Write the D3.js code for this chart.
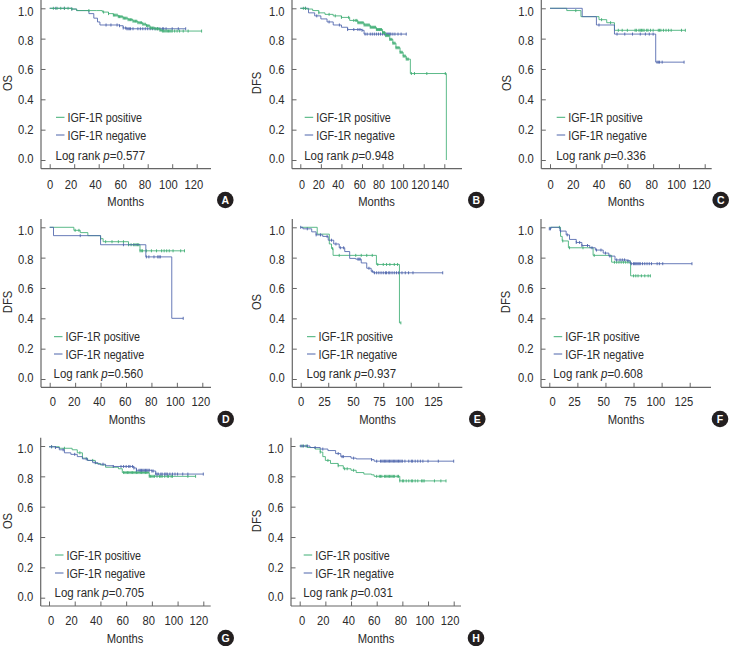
<!DOCTYPE html>
<html><head><meta charset="utf-8">
<script src="https://cdn.jsdelivr.net/npm/d3@7/dist/d3.min.js"></script>
<style>
html,body{margin:0;padding:0;background:#fff}
svg{display:block}
text{font-family:"Liberation Sans",Arial,sans-serif;fill:#2b2b2b;font-size:13.5px}
</style></head><body>
<svg id="c" width="729" height="646"></svg>
<script>
// ---------- values ----------
const yTicks=[0,0.2,0.4,0.6,0.8,1.0];
const ticks20x6=[0,20,40,60,80,100,120];
const ticks20x7=[0,20,40,60,80,100,120,140];
const ticks25=[0,25,50,75,100,125];

const A_posSteps=[[0,1],[18,.995],[22,.985],[38,.985],[43,.975],[48,.965],[52,.955],[56,.945],[60,.935],[64,.925],[68,.915],[72,.905],[76,.895],[79,.885],[82,.87],[86,.865],[90,.855],[92,.85]];
const A_negSteps=[[0,1],[18,.995],[22,.985],[32,.965],[36,.935],[39,.91],[41,.89],[57,.885],[60,.87],[63,.865]];
const A_posCens=[3,6,9,12,15,18,32,44,48,52,53,54,55,56,57,58,59,60,61,62,63,64,65,66,67,68,69,70,71,72,73,74,75,76,77,78,79,80,81,82,83,84,85,86,87,88,89,90,91,92,93,94,95,96,97,98,99,100,102,104,106,109,113,124];
const A_negCens=[5,12,18,46,50,55,57,60,62,63,64,65,66,68,72,74,76,78,80,82,84,86,88,90,92,93,95,100,105,111];

const B_posSteps=[[0,1],[6,.995],[12,.985],[18,.97],[24,.96],[32,.95],[40,.94],[48,.92],[56,.905],[62,.89],[68,.875],[74,.86],[80,.84],[83,.82],[87,.795],[90,.77],[93,.74],[97,.71],[100,.685],[103,.665],[107,.57],[142,0]];
const B_negSteps=[[0,1],[8,.97],[14,.95],[20,.93],[26,.91],[32,.89],[40,.875],[46,.86],[60,.855],[62,.83]];
const B_posCens=[3,5,18,28,34,40,47,52,54,55,56,57,58,59,60,61,62,63,64,65,66,67,68,69,70,71,72,73,74,75,76,77,78,79,80,81,82,83,84,85,86,87,88,89,90,91,92,93,94,95,96,97,98,99,100,101,102,103,104,105,108,111,123,141];
const B_negCens=[5,16,28,38,46,52,56,58,60,63,65,68,70,72,74,76,78,80,82,84,85,86,87,88,90,92,95,98,103];

const C_posSteps=[[0,1],[13,.985],[24,.945],[38,.925],[44,.905],[50,.855]];
const C_negSteps=[[0,1],[25,.945],[36,.89],[50,.83],[82,.645]];
const C_posCens=[20,40,47,53,56,60,66,67,69,70,71,72,73,75,76,78,80,84,85,86,88,90,92,94,102,105];
const C_negCens=[38,52,58,64,70,74,77,80,83,84,85,87,104];

const D_posSteps=[[0,1],[19,.98],[24,.965],[30,.945],[40,.925],[42,.905],[62,.885],[71,.845]];
const D_negSteps=[[0,1],[3,.945],[40,.885],[75.6,.805],[96,.4]];
const D_posCens=[20,23,40,44,49,54,58,62,64,66,67,68,69,70,71,72,73,76,80,84,88,90,92,94,97,103,106];
const D_negCens=[24,58,76,78,82,85,86,87,105];

const E_posSteps=[[0,1],[15,.955],[26,.89],[28,.86],[29.4,.815],[68.8,.755],[89.7,.37]];
const E_negSteps=[[0,1],[2,.99],[10,.97],[14,.95],[20,.94],[25,.915],[30,.89],[35,.865],[40,.84],[44.5,.795],[50,.79],[55,.765],[60,.73],[64,.71],[66,.70]];
const E_posCens=[29,35,50,55,60,65,70,75,78,81,85,88,91];
const E_negCens=[0,6,14,18,24,28,32,36,39,52,53,54,62,65,67,69,71,73,75,77,78,80,81,83,85,87,89,92,95,98,102,129];

const F_posSteps=[[0,1],[10,.94],[11.5,.91],[17,.865],[39,.815],[55.5,.77],[72.4,.68]];
const F_negSteps=[[0,.99],[1.5,1],[9.5,.975],[15,.95],[18,.92],[24,.90],[29,.88],[36,.865],[41,.85],[48,.83],[53,.81],[58.5,.785],[69,.78],[72,.76]];
const F_posCens=[9,12,18,30,40,58,60,62,64,66,68,70,72,75,77,79,82,85,88,90];
const F_negCens=[0,1,10,16,24,27,29,34,38,42,46,50,54,60,63,65,67,70,73,75,76,77,78,79,80,81,83,85,87,89,91,96,98,101,127];

const G_posSteps=[[0,.995],[8,.985],[18,.975],[22,.955],[26,.92],[30,.905],[36,.885],[40,.875],[44,.86],[54,.85],[57,.825],[78,.80]];
const G_negSteps=[[0,.995],[5,.99],[8,.975],[12,.955],[17,.945],[22,.93],[26,.915],[30,.905],[34,.89],[38,.88],[44,.87],[50,.865],[66,.855],[68,.84],[80,.835],[83,.815]];
const G_posCens=[2,12,24,34,58,59,60,61,62,63,64,65,66,67,68,69,70,71,72,73,74,75,76,77,78,79,80,81,82,84,86,87,88,90,92,93,95,96,108,114];
const G_negCens=[2,5,11,20,29,36,42,50,56,58,60,62,63,65,66,68,70,71,72,73,74,75,76,77,78,80,81,83,84,85,87,88,90,91,92,94,96,98,100,104,108,120];

const H_posSteps=[[0,1],[6,.99],[12,.98],[16,.96],[18,.93],[20,.905],[24,.885],[30,.87],[34,.85],[40,.84],[44,.825],[50,.815],[56,.81],[58,.80],[78,.77]];
const H_negSteps=[[0,1],[8,.99],[16,.98],[22,.97],[28,.95],[32,.93],[40,.92],[44,.915],[56,.91],[58,.90]];
const H_posCens=[2,5,16,22,30,35,37,42,60,62,63,64,66,67,68,69,70,71,72,73,74,76,77,78,80,81,83,85,87,88,90,92,95,96,97,105,110,114];
const H_negCens=[1,3,6,12,18,30,33,34,42,56,60,63,64,65,66,67,68,69,70,71,72,73,74,75,76,77,78,79,80,82,85,87,88,90,92,94,96,100,108,120];

const panelLetters=["A","B","C","D","E","F","G","H"];
const endpoints=["OS","DFS","OS","DFS","OS","DFS","OS","DFS"];
const pValues=["0.577","0.948","0.336","0.560","0.937","0.608","0.705","0.031"];
const legendNames=["IGF-1R positive","IGF-1R negative"];
const xAxisLabel="Months";
const posColor="#3fae74", negColor="#4d64ab";

// ---------- layout ----------
const narrow=0.83, narrowLegend=0.795, narrowLog=0.85;
const rowA={top:0,bottom:168.7,y1:8.3,y0:160,xLab:184,mon:201.7,leg:[117.3,135],log:155,badge:200,ySide:83};
const rowB={top:219,bottom:387.3,y1:227.3,y0:379,xLab:401,mon:419.5,leg:[336.7,354],log:373.7,badge:419,ySide:302};
const rowC={top:437.7,bottom:606,y1:446,y0:597.7,xLab:620,mon:638.5,leg:[555,573],log:592.3,badge:638,ySide:521};
const panels=[
 {row:rowA,axis:41,right:211,x0:49.7,xEnd:196.7,dom:120,ticks:ticks20x6,pos:A_posSteps,neg:A_negSteps,pc:A_posCens,nc:A_negCens,leg:56,yl:7,mid:125.7,badge:225.3,posTop:true,tickNarrow:narrow,nudge:[0,-3.7,-3.7,-3,-3.3,-4.3,-3.3]},
 {row:rowA,axis:292,right:462,x0:300.3,xEnd:444.3,dom:140,ticks:ticks20x7,pos:B_posSteps,neg:B_negSteps,pc:B_posCens,nc:B_negCens,leg:304.7,yl:256.5,mid:376.5,badge:476.3,posTop:true,tickNarrow:0.8,nudge:[1.3,-2.7,-3.7,-2.7,-4,-4.3,-4,-4.7]},
 {row:rowA,axis:541.3,right:711.7,x0:550,xEnd:704.7,dom:120,ticks:ticks20x6,pos:C_posSteps,neg:C_negSteps,pc:C_posCens,nc:C_negCens,leg:556.7,yl:506,mid:626,badge:720.7,tickNarrow:narrow,nudge:[0,-3,-3,-3,-2,-2.7,-3.7]},
 {row:rowB,axis:41,right:211,x0:49.7,xEnd:202.3,dom:120,ticks:ticks20x6,pos:D_posSteps,neg:D_negSteps,pc:D_posCens,nc:D_negCens,leg:54,yl:7,mid:127,badge:225.7,tickNarrow:narrow,nudge:[2.7,-1.3,-1.7,-1.3,-.7,-2,-2]},
 {row:rowB,axis:292.3,right:462.3,x0:300.7,xEnd:438.3,dom:125,ticks:ticks25,pos:E_posSteps,neg:E_negSteps,pc:E_posCens,nc:E_negCens,leg:307,yl:256.5,mid:377.5,badge:477.3,tickNarrow:narrow,nudge:[0,-4.3,-2.7,-4.3,-6.7,-5.3]},
 {row:rowB,axis:541,right:711,x0:549.3,xEnd:689.7,dom:125,ticks:ticks25,pos:F_posSteps,neg:F_negSteps,pc:F_posCens,nc:F_negCens,leg:553.7,yl:505.5,mid:626,badge:720,tickNarrow:narrow,nudge:[2.7,-3.3,-2.3,-3.7,-6.3,-6.3]},
 {row:rowC,axis:40.7,right:210.7,x0:49,xEnd:203.3,dom:120,ticks:ticks20x6,pos:G_posSteps,neg:G_negSteps,pc:G_posCens,nc:G_negCens,leg:55,yl:7,mid:125,badge:225.7,tickNarrow:narrow,nudge:[1.7,-3.7,-4.7,-4,-3.7,-4.3,-5]},
 {row:rowC,axis:291,right:461,x0:299.7,xEnd:453.7,dom:120,ticks:ticks20x6,pos:H_posSteps,neg:H_negSteps,pc:H_posCens,nc:H_negCens,leg:303.7,yl:256,mid:376,badge:476,tickNarrow:narrow,nudge:[2,-2.7,-2.7,-3,-2,-3.7,-4]}
];
const yNudge=[-1.7,-.5,0,.5,2,2.5];
const axisColor="#666";

const svg=d3.select("#c");
const line=d3.line().curve(d3.curveStepAfter);

function drawCurve(g,steps,cens,color,x,y){
  const surv=t=>steps[Math.max(0,d3.bisectRight(steps.map(s=>s[0]),t)-1)][1];
  const last=steps[steps.length-1];
  const end=Math.max(d3.max(cens),last[0]);
  const pts=steps.concat([[end,last[1]]]);
  line.x(d=>x(d[0])).y(d=>y(d[1]));
  g.append("path").attr("d",line(pts)).attr("fill","none").attr("stroke",color).attr("stroke-width",1).attr("stroke-opacity",.85);
  g.selectAll(null).data(cens).join("line")
    .attr("x1",d=>x(d)).attr("x2",d=>x(d))
    .attr("y1",d=>y(surv(d))-1.5).attr("y2",d=>y(surv(d))+1.5)
    .attr("stroke",color).attr("stroke-width",.9);
}

function squeeze(sel,factor){
  sel.each(function(){
    this.setAttribute("lengthAdjust","spacingAndGlyphs");
    this.setAttribute("textLength",(this.getComputedTextLength()*factor).toFixed(2));
  });
}

panels.forEach((p,i)=>{
  const r=p.row;
  const g=svg.append("g");
  const x=d3.scaleLinear().domain([0,p.dom]).range([p.x0,p.xEnd]);
  const y=d3.scaleLinear().domain([0,1]).range([r.y0,r.y1]);

  const ax=g.append("g").attr("transform",`translate(0,${r.bottom})`)
    .call(d3.axisBottom(x).tickValues(p.ticks).tickSize(-4.5).tickPadding(0).tickFormat(d3.format("d")));
  ax.select(".domain").remove();
  ax.selectAll("line").attr("stroke",axisColor);
  ax.selectAll("text").attr("transform",(d,k)=>`translate(${p.nudge[k]},0) scale(${p.tickNarrow},1)`)
    .attr("y",r.xLab-r.bottom).attr("dy","0.35em");

  const ay=g.append("g").attr("transform",`translate(${p.axis},0)`)
    .call(d3.axisRight(y).tickValues(yTicks).tickSize(4.5).tickFormat(d3.format(".1f")));
  ay.select(".domain").remove();
  ay.selectAll("line").attr("stroke",axisColor);
  ay.selectAll("text").attr("x",-7.5).attr("text-anchor","end")
    .attr("transform",(d,k)=>`translate(0,${yNudge[k]})`).call(squeeze,narrow);

  g.append("line").attr("x1",p.axis).attr("x2",p.axis).attr("y1",r.top).attr("y2",r.bottom).attr("stroke",axisColor).attr("stroke-width",1.2);
  g.append("line").attr("x1",p.axis).attr("x2",p.right).attr("y1",r.bottom).attr("y2",r.bottom).attr("stroke",axisColor).attr("stroke-width",1.2);

  if(p.posTop){
    drawCurve(g,p.neg,p.nc,negColor,x,y);
    drawCurve(g,p.pos,p.pc,posColor,x,y);
  }else{
    drawCurve(g,p.pos,p.pc,posColor,x,y);
    drawCurve(g,p.neg,p.nc,negColor,x,y);
  }

  [posColor,negColor].forEach((c,k)=>{
    g.append("line").attr("x1",p.leg).attr("x2",p.leg+8.5).attr("y1",r.leg[k]).attr("y2",r.leg[k]).attr("stroke",c).attr("stroke-width",1);
    g.append("text").attr("x",p.leg+11.5).attr("y",r.leg[k]).attr("dy","0.35em").text(legendNames[k]).call(squeeze,narrowLegend);
  });
  const t=g.append("g").attr("transform",`translate(${p.leg-.5},${r.log}) scale(${narrowLog},1)`)
    .append("text").attr("dy","0.35em");
  t.append("tspan").text("Log rank ");
  t.append("tspan").attr("font-style","italic").text("p");
  t.append("tspan").text("="+pValues[i]);

  g.append("text").attr("x",p.mid).attr("y",r.mon).attr("dy","0.35em").attr("text-anchor","middle").text(xAxisLabel).call(squeeze,narrow);
  g.append("text").attr("transform",`translate(${p.yl},${r.ySide}) rotate(-90)`).attr("dy","0.35em").attr("text-anchor","middle").text(endpoints[i]).call(squeeze,narrow);

  g.append("circle").attr("cx",p.badge).attr("cy",r.badge).attr("r",8.3).attr("fill","#231f20");
  g.append("text").attr("x",p.badge).attr("y",r.badge).attr("dy","0.36em").attr("text-anchor","middle")
    .style("fill","#fff").style("font-weight","700").style("font-size","10.5px").text(panelLetters[i]);
});
</script>
</body></html>
